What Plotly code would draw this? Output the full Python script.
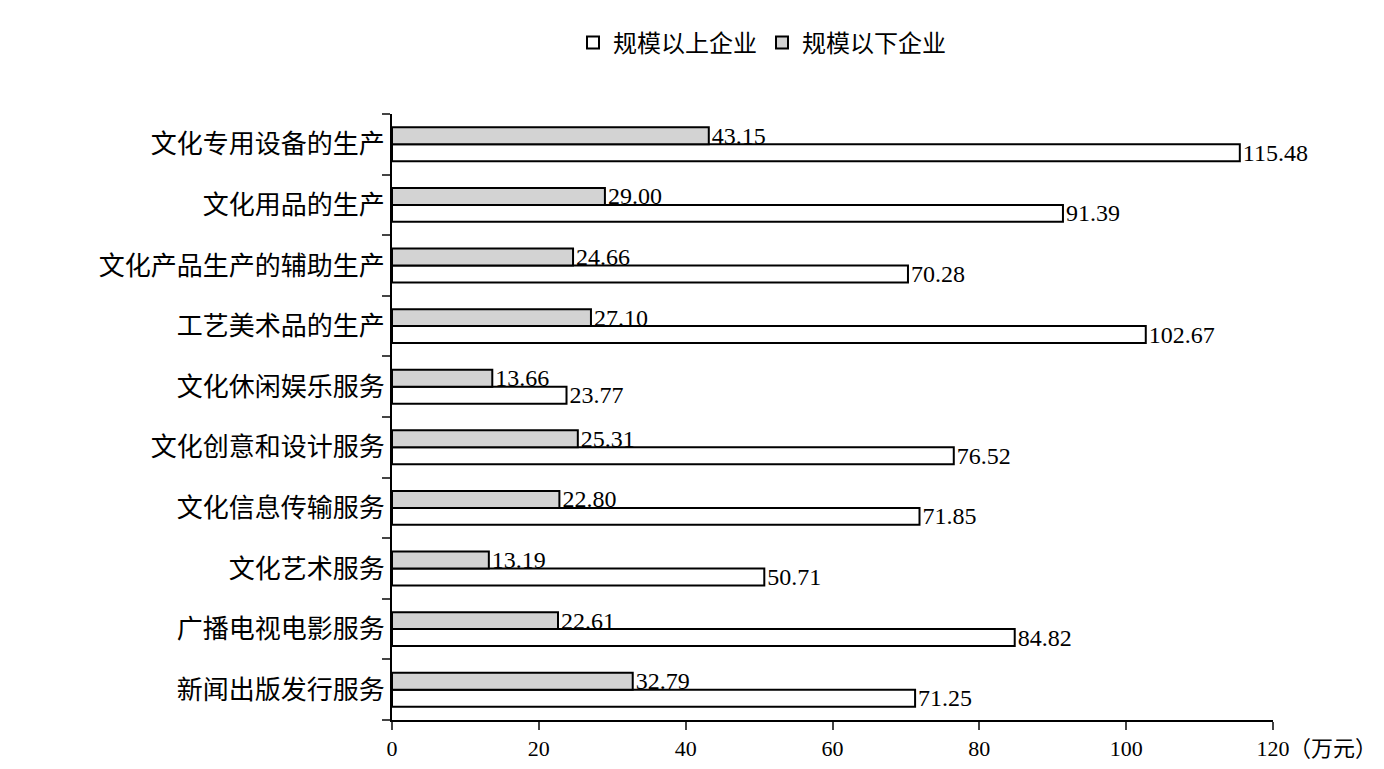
import plotly.graph_objects as go

categories = ["新闻出版发行服务", "广播电视电影服务", "文化艺术服务", "文化信息传输服务",
              "文化创意和设计服务", "文化休闲娱乐服务", "工艺美术品的生产",
              "文化产品生产的辅助生产", "文化用品的生产", "文化专用设备的生产"]
above = [71.25, 84.82, 50.71, 71.85, 76.52, 23.77, 102.67, 70.28, 91.39, 115.48]
below = [32.79, 22.61, 13.19, 22.80, 25.31, 13.66, 27.10, 24.66, 29.00, 43.15]

font = "Liberation Serif, Noto Sans CJK SC"
fig = go.Figure()
fig.add_bar(y=categories, x=above, orientation="h", name="规模以上企业",
            marker=dict(color="white", line=dict(color="black", width=2)),
            text=[f"{v:.2f}" for v in above], textposition="outside",
            textfont=dict(size=24, family=font, color="black"), cliponaxis=False,
            constraintext="none")
fig.add_bar(y=categories, x=below, orientation="h", name="规模以下企业",
            marker=dict(color="#d3d3d3", line=dict(color="black", width=2)),
            text=[f"{v:.2f}" for v in below], textposition="outside",
            textfont=dict(size=24, family=font, color="black"), cliponaxis=False,
            constraintext="none")

fig.update_layout(
    width=1384, height=769, plot_bgcolor="white", paper_bgcolor="white",
    margin=dict(l=384, r=119, t=50, b=57),
    barmode="group", bargap=0.44, bargroupgap=0,
    font=dict(family=font, size=24, color="black"),
    legend=dict(orientation="h", x=0.42, xanchor="center", y=1.08, yanchor="bottom",
                font=dict(size=24), traceorder="normal"),
    xaxis=dict(range=[0, 120], tickvals=[0, 20, 40, 60, 80, 100, 120], showgrid=False,
               showline=True, linecolor="black", linewidth=2, ticks="outside",
               ticklen=8, tickwidth=2, zeroline=False, tickfont=dict(size=22)),
    yaxis=dict(showgrid=False, showline=True, linecolor="black", linewidth=2,
               ticks="outside", ticklen=8, tickwidth=2, tickson="boundaries",
               tickfont=dict(size=26)),
    uniformtext=dict(mode=False),
    showlegend=True,
)
fig.add_annotation(text="（万元）", x=1.0, xref="paper", y=0, yref="paper",
                   xanchor="left", yanchor="top", yshift=-14, xshift=14, showarrow=False,
                   font=dict(size=22))
fig.write_html("out.html")
